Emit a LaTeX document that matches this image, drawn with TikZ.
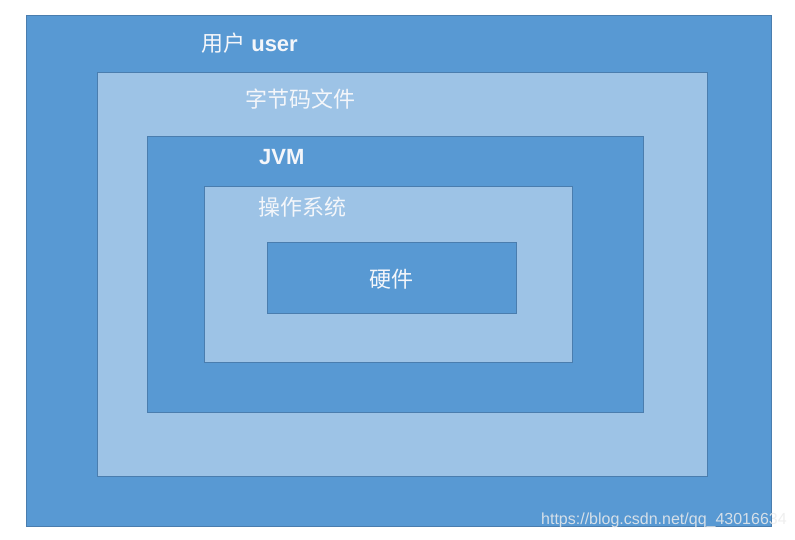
\documentclass[tikz,border=0pt]{standalone}
\usepackage{fontspec}
\setmainfont{Liberation Sans}
\newfontfamily\cjk{Noto Sans CJK SC}
\definecolor{midblue}{HTML}{5899D3}
\definecolor{lightblue}{HTML}{9DC3E6}
\definecolor{edgeblue}{HTML}{4A7DAE}
\definecolor{txtwhite}{HTML}{F4F6FA}
\begin{document}
\begin{tikzpicture}[x=1pt,y=-1pt,
  layer/.style={draw=edgeblue, line width=0.9pt, inner sep=0pt, outer sep=0pt, anchor=north west},
  darklayer/.style={layer, fill=midblue},
  lightlayer/.style={layer, fill=lightblue},
  label/.style={text=txtwhite, font=\fontsize{22}{25}\selectfont, inner sep=0pt, anchor=west},
  wm/.style={text=white!85!gray, opacity=0.85, font=\fontsize{16}{18}\selectfont, inner sep=0pt, anchor=west}]
\useasboundingbox (0,0) rectangle (795,539);
\fill[white] (0,0) rectangle (795,539);
\node[darklayer, minimum width=745pt, minimum height=511pt] (user) at (26,15) {};
\node[lightlayer, minimum width=610pt, minimum height=404pt] (bytecode) at (97,72) {};
\node[darklayer, minimum width=496pt, minimum height=276pt] (jvm) at (147,136) {};
\node[lightlayer, minimum width=368pt, minimum height=176pt] (os) at (204,186) {};
\node[darklayer, minimum width=249pt, minimum height=71pt] (hw) at (267,242) {};
\node[label] (tuser) at (201,43) {{\cjk 用户} \textbf{user}};
\node[label] (tbyte) at (245,99) {\cjk 字节码文件};
\node[label] (tjvm) at (259,157) {\textbf{JVM}};
\node[label] (tos) at (258,207) {\cjk 操作系统};
\node[label, anchor=center] (thw) at (391.5,279) {\cjk 硬件};
\node[wm] (wmark) at (541,520) {https://blog.csdn.net/qq\_43016634};
\end{tikzpicture}
\end{document}
